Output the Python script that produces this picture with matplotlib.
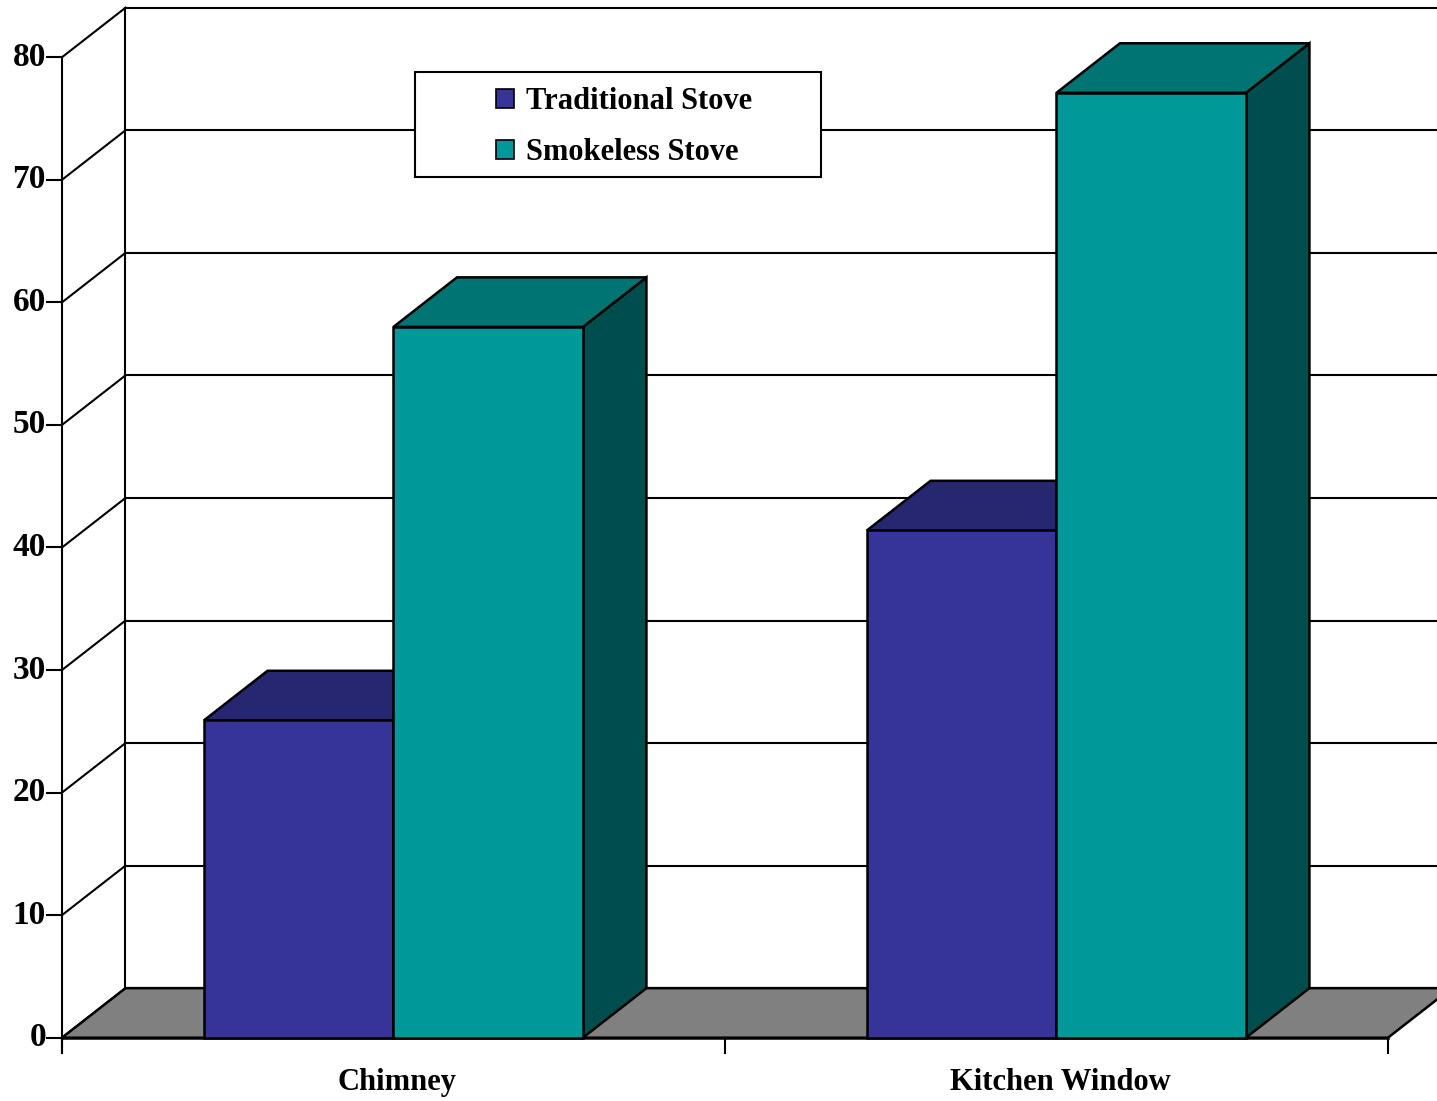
import matplotlib
matplotlib.use("Agg")
import matplotlib.pyplot as plt
from matplotlib.patches import Polygon, Rectangle, Patch

# stove survey values (percent)
categories = ["Chimney", "Kitchen Window"]
series_names = ["Traditional Stove", "Smokeless Stove"]
traditional = [25.9, 41.4]
smokeless = [58.0, 77.1]
yticks = [0, 10, 20, 30, 40, 50, 60, 70, 80]

# face colours: front, top, side
face_colors = {
    "Traditional Stove": ("#373499", "#272670", "#1e1d55"),
    "Smokeless Stove": ("#009999", "#007373", "#004d4d"),
}

font = "Liberation Serif"
plt.rcParams["font.family"] = [font, "DejaVu Serif"]

fig = plt.figure(figsize=(14.37, 11.01), dpi=100)
ax = fig.add_axes([0, 0, 1, 1])
ax.set_xlim(-62 / 663, (1437 - 62) / 663)
ax.set_ylim(-5.165, 84.67)
ax.set_axis_off()

# depth offset of the 3-D box, in data units
DX = 63.5 / 663
DZ = 4.04
ncat = len(categories)
ymax = yticks[-1]
grid_lw = 1.5
edge_lw = 1.8

# back wall and left side wall grid
for v in yticks:
    ax.plot([DX, ncat + DX], [v + DZ, v + DZ], color="black", lw=grid_lw, zorder=1)
    ax.plot([0, DX], [v, v + DZ], color="black", lw=grid_lw, zorder=1)
ax.plot([DX, DX], [DZ, ymax + DZ], color="black", lw=grid_lw, zorder=1)
ax.plot([0, 0], [-1.22, ymax], color="black", lw=grid_lw, zorder=1)

# floor
ax.add_patch(Polygon([(0, 0), (ncat, 0), (ncat + DX, DZ), (DX, DZ)],
                     closed=True, facecolor="#808080", edgecolor="black",
                     lw=edge_lw, zorder=2))
ax.plot([0, ncat], [0, 0], color="black", lw=edge_lw, zorder=2)


def bar3d(x0, w, h, colors, z):
    front, top, side = colors
    ax.add_patch(Polygon([(x0 + w, 0), (x0 + w + DX, DZ), (x0 + w + DX, h + DZ), (x0 + w, h)],
                         closed=True, facecolor=side, edgecolor="black", lw=edge_lw, zorder=z))
    ax.add_patch(Polygon([(x0, h), (x0 + w, h), (x0 + w + DX, h + DZ), (x0 + DX, h + DZ)],
                         closed=True, facecolor=top, edgecolor="black", lw=edge_lw, zorder=z))
    ax.add_patch(Rectangle((x0, 0), w, h, facecolor=front, edgecolor="black",
                           lw=edge_lw, zorder=z))


gap = 1.5 / 7
width = 2 / 7
for i in range(ncat):
    for j, (name, vals) in enumerate(zip(series_names, [traditional, smokeless])):
        bar3d(i + gap + j * width, width, vals[i], face_colors[name], 3 + 2 * i + j)

# y ticks and labels
for v in yticks:
    ax.plot([-15 / 663, 0], [v, v], color="black", lw=grid_lw, zorder=2)
    ax.text(-16 / 663, v, str(v), ha="right", va="center", fontsize=24,
            fontweight="bold", family=font)

# category ticks and labels
for i in range(ncat + 1):
    ax.plot([i, i], [-1.22, 0], color="black", lw=grid_lw, zorder=2)
for i, c in enumerate(categories):
    ax.text(i + 0.505, -4.27, c, ha="center", va="baseline", fontsize=22,
            fontweight="bold", family=font)

# legend box
ax.add_patch(Rectangle((0.2888, 0.8395), 0.2825, 0.0954, transform=ax.transAxes,
                       facecolor="white", edgecolor="black", lw=grid_lw, zorder=20))
handles = [Patch(facecolor=face_colors[n][0], edgecolor="black", lw=1.2) for n in series_names]
leg = ax.legend(handles, series_names, loc="center", bbox_to_anchor=(0.4342, 0.8842),
                frameon=False, handlelength=0.6, handleheight=0.6,
                handletextpad=0.4, labelspacing=0.72,
                prop={"family": font, "weight": "bold", "size": 22})
leg.set_zorder(21)

fig.savefig("out.png", dpi=100)
